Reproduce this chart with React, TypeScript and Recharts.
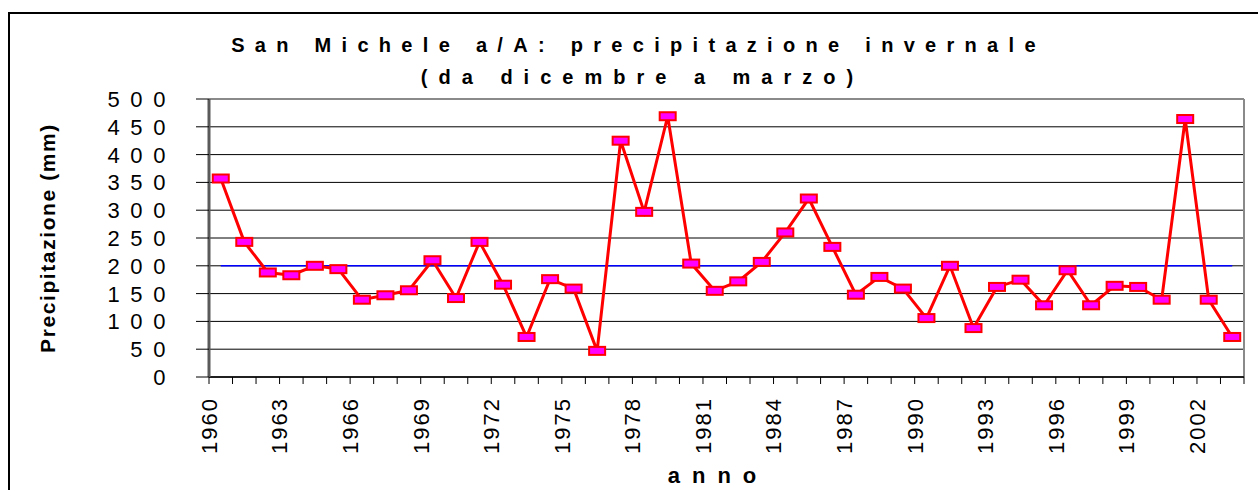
import React from 'react';
import { LineChart, Line, XAxis, YAxis, CartesianGrid, ReferenceLine } from 'recharts';

const years = [
  1960, 1961, 1962, 1963, 1964, 1965, 1966, 1967, 1968, 1969,
  1970, 1971, 1972, 1973, 1974, 1975, 1976, 1977, 1978, 1979,
  1980, 1981, 1982, 1983, 1984, 1985, 1986, 1987, 1988, 1989,
  1990, 1991, 1992, 1993, 1994, 1995, 1996, 1997, 1998, 1999,
  2000, 2001, 2002, 2003,
];

// precipitazione dic-mar (mm)
const precip = [
  357, 243, 188, 183, 200, 194, 139, 147, 156, 210,
  142, 243, 166, 72, 176, 159, 47, 425, 297, 469,
  204, 155, 172, 207, 260, 321, 234, 148, 180, 159,
  106, 200, 88, 162, 175, 129, 192, 129, 164, 162,
  139, 464, 139, 72,
];

const MEDIA = 200;
const yTicks = [0, 50, 100, 150, 200, 250, 300, 350, 400, 450, 500];

const data = years.map((year, i) => ({ pos: i + 0.5, year, precip: precip[i] }));
const xTicks = [...years.map((_, i) => i), years.length];

const FONT = "Arial, 'Liberation Sans', sans-serif";

const RectDot = (props: any) => {
  const { cx, cy, index } = props;
  if (cx == null || cy == null) return <g key={index} />;
  return (
    <rect key={index} x={cx - 8} y={cy - 4} width={16} height={8}
      fill="#FF00FF" stroke="#FF0000" strokeWidth={2} />
  );
};

const XTick = (props: any) => {
  const { x, y, payload } = props;
  const i = payload.value;
  if (i % 3 !== 0 || i >= years.length) return <g />;
  const ty = y + 13;
  return (
    <text x={x} y={ty} transform={`rotate(-90, ${x}, ${ty})`} textAnchor="end" dy="0.36em"
      fontFamily={FONT} fontSize={22} letterSpacing={2} fill="#000">
      {years[i]}
    </text>
  );
};

const YTick = (props: any) => {
  const { x, y, payload } = props;
  return (
    <text x={x - 20} y={y} textAnchor="end" dy="0.36em"
      fontFamily={FONT} fontSize={22} letterSpacing={10.6} fill="#000">
      {payload.value}
    </text>
  );
};

export default function App() {
  return (
    <div style={{ position: 'absolute', left: 0, top: 0, width: 1258, height: 490, background: '#fff', overflow: 'hidden' }}>
      <div style={{ position: 'absolute', left: 8, top: 12, width: 1260, height: 490, borderTop: '2px solid #000', borderLeft: '2px solid #000' }} />
      <div style={{ position: 'absolute', left: 0, width: 1277, top: 32, textAlign: 'center', fontFamily: FONT, fontWeight: 'bold', fontSize: 20, letterSpacing: 10.3, lineHeight: '26px' }}>
        San Michele a/A: precipitazione invernale
      </div>
      <div style={{ position: 'absolute', left: 0, width: 1285, top: 64, textAlign: 'center', fontFamily: FONT, fontWeight: 'bold', fontSize: 20, letterSpacing: 11, lineHeight: '26px' }}>
        (da dicembre a marzo)
      </div>
      <div style={{ position: 'absolute', left: 48, top: 238, transform: 'translate(-50%, -50%) rotate(-90deg)', whiteSpace: 'nowrap', fontFamily: FONT, fontWeight: 'bold', fontSize: 21, letterSpacing: 1.6 }}>
        Precipitazione (mm)
      </div>
      <div style={{ position: 'absolute', left: 0, width: 1436, top: 462, textAlign: 'center', fontFamily: FONT, fontWeight: 'bold', fontSize: 22, letterSpacing: 12, lineHeight: '28px' }}>
        anno
      </div>
      <div style={{ position: 'absolute', left: 0, top: 0 }}>
        <LineChart width={1258} height={490} data={data} margin={{ top: 99, right: 14, bottom: 0, left: 0 }}>
          <CartesianGrid vertical={false} stroke="#000" strokeOpacity={1} strokeWidth={1} />
          <XAxis type="number" dataKey="pos" domain={[0, years.length]} ticks={xTicks} interval={0}
            height={113} tickSize={7} tickMargin={0} tick={<XTick />}
            axisLine={{ stroke: '#000', strokeWidth: 1.5 }} tickLine={{ stroke: '#000', strokeWidth: 1 }} />
          <YAxis type="number" domain={[0, 500]} ticks={yTicks} interval={0}
            width={209} tickSize={13} tickMargin={0} tick={<YTick />}
            axisLine={{ stroke: '#5a5a5a', strokeWidth: 3 }} tickLine={{ stroke: '#000', strokeWidth: 1 }} />
          <ReferenceLine y={500} stroke="#8a8a8a" strokeWidth={2} />
          <ReferenceLine x={years.length} stroke="#8a8a8a" strokeWidth={2} />
          <ReferenceLine segment={[{ x: data[0].pos, y: MEDIA }, { x: data[data.length - 1].pos, y: MEDIA }]}
            stroke="#0000FF" strokeWidth={1.5} />
          <Line type="linear" dataKey="precip" stroke="#FF0000" strokeWidth={3}
            dot={RectDot} activeDot={false} isAnimationActive={false} />
        </LineChart>
      </div>
    </div>
  );
}
